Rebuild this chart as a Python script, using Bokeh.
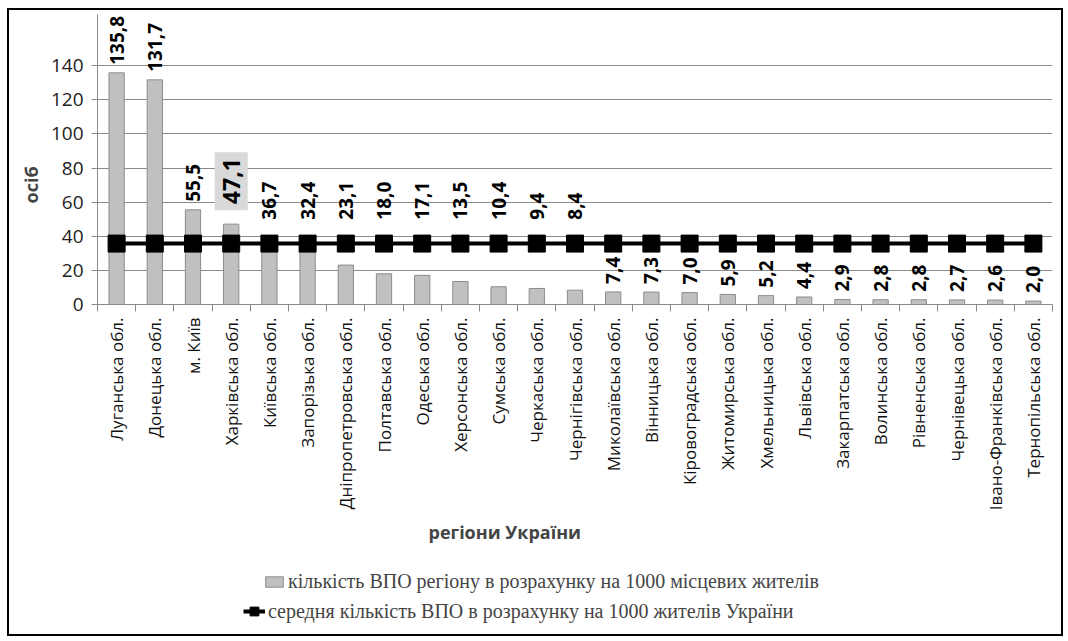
from math import pi
from bokeh.plotting import figure
from bokeh.layouts import column
from bokeh.models import ColumnDataSource, Range1d, FixedTicker, Legend, LegendItem, Title
from bokeh.core.properties import value
from bokeh.embed import file_html
from bokeh.resources import INLINE

regions = [
    "Луганська обл.", "Донецька обл.", "м. Київ", "Харківська обл.", "Київська обл.",
    "Запорізька обл.", "Дніпропетровська обл.", "Полтавська обл.", "Одеська обл.",
    "Херсонська обл.", "Сумська обл.", "Черкаська обл.", "Чернігівська обл.",
    "Миколаївська обл.", "Вінницька обл.", "Кіровоградська обл.", "Житомирська обл.",
    "Хмельницька обл.", "Львівська обл.", "Закарпатська обл.", "Волинська обл.",
    "Рівненська обл.", "Чернівецька обл.", "Івано-Франківська обл.", "Тернопільська обл.",
]
ipd_per_1000 = [135.8, 131.7, 55.5, 47.1, 36.7, 32.4, 23.1, 18.0, 17.1, 13.5, 10.4, 9.4, 8.4,
                7.4, 7.3, 7.0, 5.9, 5.2, 4.4, 2.9, 2.8, 2.8, 2.7, 2.6, 2.0]
ukraine_avg = 35.7
y_ticks = [0, 20, 40, 60, 80, 100, 120, 140]
highlight_index = 3
series_names = ["кількість ВПО регіону в розрахунку на 1000 місцевих жителів",
                "середня кількість ВПО в розрахунку на 1000 жителів України"]

n = len(regions)
xs = [i + 0.5 for i in range(n)]
labels = [f"{v:.1f}".replace(".", ",") for v in ipd_per_1000]
label_y = [v if v < 8 else max(v, 45) for v in ipd_per_1000]

src = ColumnDataSource(dict(x=xs, v=ipd_per_1000, avg=[ukraine_avg] * n))
idx_norm = [i for i in range(n) if i != highlight_index]
lab_src = ColumnDataSource(dict(x=[xs[i] for i in idx_norm], y=[label_y[i] for i in idx_norm],
                                t=[labels[i] for i in idx_norm]))
hl_src = ColumnDataSource(dict(x=[xs[highlight_index]], y=[label_y[highlight_index]],
                               t=[labels[highlight_index]]))

FONT = "Open Sans"
GRAY = "#8a8a8a"
BAR_FILL, BAR_LINE = "#c0c0c0", "#8c8c8c"

p = figure(width=1052, height=556, x_range=Range1d(0, n), y_range=Range1d(0, 170),
           output_backend="svg", toolbar_location=None,
           min_border_left=88, min_border_right=9, min_border_top=4, min_border_bottom=262)
p.outline_line_color = None
p.background_fill_color = "white"
p.border_fill_color = "white"

p.xgrid.visible = False
p.ygrid.grid_line_color = GRAY
p.ygrid.grid_line_width = 1

p.yaxis.ticker = FixedTicker(ticks=y_ticks)
p.yaxis.axis_line_color = GRAY
p.yaxis.major_tick_line_color = GRAY
p.yaxis.major_tick_out = 6
p.yaxis.major_tick_in = 0
p.yaxis.minor_tick_line_color = None
p.yaxis.major_label_text_font = FONT
p.yaxis.major_label_text_font_size = "19px"
p.yaxis.major_label_text_color = "#222222"
p.yaxis.major_label_standoff = 8

p.xaxis.ticker = FixedTicker(ticks=xs, minor_ticks=list(range(n + 1)))
p.xaxis.major_label_overrides = {x: r for x, r in zip(xs, regions)}
p.xaxis.major_label_orientation = pi / 2
p.xaxis.major_tick_line_color = None
p.xaxis.minor_tick_line_color = GRAY
p.xaxis.minor_tick_out = 7
p.xaxis.minor_tick_in = 0
p.xaxis.axis_line_color = GRAY
p.xaxis.major_label_text_font = FONT
p.xaxis.major_label_text_font_size = "17px"
p.xaxis.major_label_text_color = "#111111"
p.xaxis.major_label_standoff = 6

p.vbar(x="x", top="v", width=0.4, source=src, fill_color=BAR_FILL, line_color=BAR_LINE)
p.line(x="x", y="avg", source=src, line_color="black", line_width=4)
p.scatter(x="x", y="avg", source=src, marker="square", size=17, color="black")

p.text(x="x", y="y", text="t", source=lab_src, angle=pi / 2, text_align="left",
       text_baseline="middle", y_offset=-8, text_font=value(FONT), text_font_style="bold",
       text_font_size="19px", text_color="black")
p.text(x="x", y="y", text="t", source=hl_src, angle=pi / 2, text_align="left",
       text_baseline="middle", y_offset=-14, text_font=value(FONT), text_font_style="bold",
       text_font_size="23px", text_color="black", background_fill_color="#d9d9d9",
       padding=(6, 8))

p.add_layout(Title(text="осіб", align="left", offset=101, text_font=FONT,
                   text_font_style="bold", text_font_size="18px"), "left")
p.add_layout(Title(text="регіони України", align="left", offset=331, text_font=FONT,
                   text_font_style="bold", text_font_size="18px", standoff=8), "below")

# legend strip (same series, drawn off-range so only the legend shows)
lf = figure(width=1052, height=68, x_range=Range1d(0, n), y_range=Range1d(1000, 1001),
            output_backend="svg", toolbar_location=None,
            min_border_left=0, min_border_right=0, min_border_top=0, min_border_bottom=0)
lf.axis.visible = False
lf.grid.visible = False
lf.outline_line_color = None
lf.border_fill_color = "white"
lg_bar = lf.vbar(x="x", top="v", width=0.4, source=src, fill_color=BAR_FILL, line_color=BAR_LINE)
lg_line = lf.line(x="x", y="avg", source=src, line_color="black", line_width=4)
lg_pts = lf.scatter(x="x", y="avg", source=src, marker="square", size=17, color="black")

leg_kw = dict(orientation="horizontal", border_line_color=None,
              label_text_font="Liberation Serif", label_text_font_size="20px",
              padding=1, margin=0, label_standoff=3, background_fill_alpha=0)
leg1 = Legend(items=[LegendItem(label=series_names[0], renderers=[lg_bar])],
              location=(166, 41), glyph_width=22, glyph_height=13, **leg_kw)
leg2 = Legend(items=[LegendItem(label=series_names[1], renderers=[lg_line, lg_pts])],
              location=(146, 10), glyph_width=22, glyph_height=26, **leg_kw)
lf.add_layout(leg1)
lf.add_layout(leg2)

page = column(p, lf, spacing=0,
              styles={"border": "2px solid black", "margin-left": "7px", "margin-top": "8px"})

open("out.html", "w").write(file_html(page, INLINE))
